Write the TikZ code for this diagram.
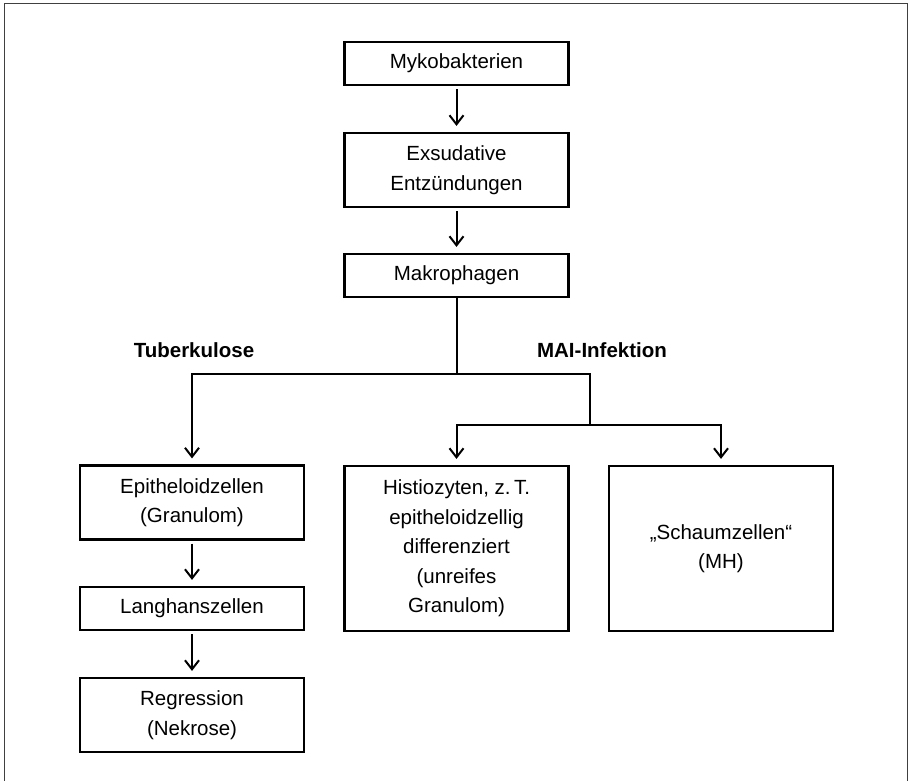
\documentclass[tikz,border=0pt]{standalone}
\usepackage{fontspec}
\setmainfont{Liberation Sans}
\usetikzlibrary{arrows.meta}
\tikzset{
  box/.style={draw=black, line width=2.2pt, minimum width=224pt, inner sep=0pt,
    align=center, font=\fontsize{20.5}{29.5}\selectfont},
  onebox/.style={box, minimum height=43pt},
  twobox/.style={box, minimum height=74pt},
  tallbox/.style={box, minimum height=165pt},
  conn/.style={line width=2pt, line join=miter},
  arr/.style={conn, -{Straight Barb[length=9pt,width=14pt,line width=2pt]}, shorten >=6pt},
  lbl/.style={font=\bfseries\fontsize{20.5}{24}\selectfont, inner sep=0pt},
  frame/.style={draw=black!75, line width=1pt}
}
\begin{document}
\begin{tikzpicture}[x=1pt,y=-1pt]
\useasboundingbox (0,0) rectangle (910,781);
\draw[frame] (4,781) -- (4,4) -- (907,4) -- (907,781);

\node[onebox] (myko) at (456.5,63.5) {Mykobakterien};
\node[twobox] (exs) at (456.5,170) {Exsudative\\Entzündungen};
\node[onebox] (makro) at (456.5,275.5) {Makrophagen};

\node[twobox] (epi) at (192,502.5) {Epitheloidzellen\\(Granulom)};
\node[onebox] (lang) at (192,608.5) {Langhanszellen};
\node[twobox] (regr) at (192,715) {Regression\\(Nekrose)};

\node[tallbox] (hist) at (456.5,548.5) {Histiozyten, z.\,T.\\epitheloidzellig\\differenziert\\(unreifes\\Granulom)};
\node[tallbox] (schaum) at (721,548.5) {„Schaumzellen“\\(MH)};

\node[lbl] (tb) at (194,350) {Tuberkulose};
\node[lbl] (mai) at (602,350) {MAI-Infektion};

\coordinate (j) at (456.5,374);
\coordinate (jL) at (192,374);
\coordinate (jR) at (590,374);
\coordinate (kR) at (590,425);
\coordinate (kL) at (456.5,425);
\coordinate (kR2) at (721,425);

\draw[arr, shorten <=3pt] (myko) -- (exs);
\draw[arr, shorten <=3pt] (exs) -- (makro);
\draw[conn] (makro) -- (j);
\draw[arr] (kR) -- (jR) -- (jL) -- (epi);
\draw[arr] (kR) -- (kL) -- (hist);
\draw[arr] (kR) -- (kR2) -- (schaum);
\draw[arr, shorten <=3pt] (epi) -- (lang);
\draw[arr, shorten <=3pt] (lang) -- (regr);
\end{tikzpicture}
\end{document}
